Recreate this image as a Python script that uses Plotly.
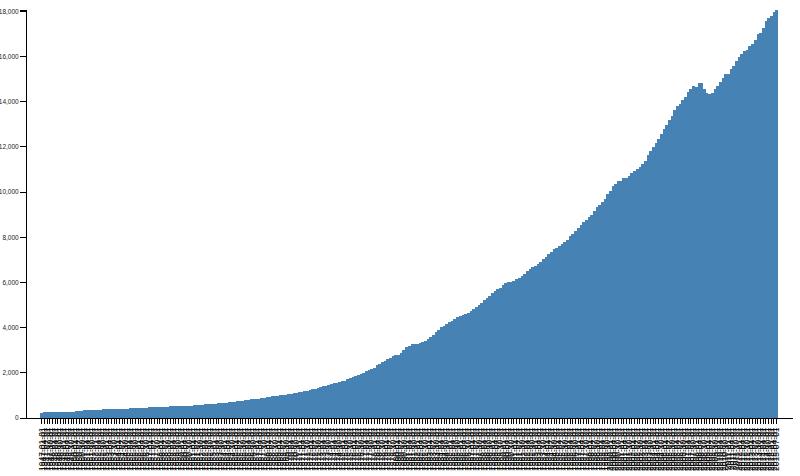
import plotly.graph_objects as go

years = list(range(1947, 2016))
quarters = ["01", "04", "07", "10"]
dates = [f"{y}-{q}-01" for y in years for q in quarters][:275]

gdp = [
    243.1, 246.3, 250.1, 260.3, 266.2, 272.9, 279.5, 280.7, 275.4, 271.7, 273.3, 271.0,
    281.2, 290.7, 308.5, 320.3, 336.4, 344.5, 351.8, 356.6, 360.2, 361.4, 368.1, 381.2,
    388.5, 392.3, 391.7, 386.5, 385.9, 386.7, 391.6, 400.3, 413.8, 422.2, 430.9, 437.8,
    440.5, 446.8, 452.0, 461.3, 470.6, 472.8, 480.3, 475.7, 468.4, 472.8, 486.7, 500.4,
    511.1, 524.2, 525.2, 529.3, 543.3, 542.7, 546.0, 541.1, 545.9, 557.4, 568.2, 581.6,
    595.2, 602.6, 609.6, 613.1, 622.7, 631.8, 645.0, 654.8, 671.1, 680.8, 692.8, 698.4,
    719.2, 732.4, 750.2, 773.1, 797.3, 807.2, 820.8, 834.9, 846.0, 851.1, 866.6, 883.2,
    911.1, 936.3, 952.3, 970.1, 995.4, 1011.4, 1032.0, 1040.7, 1053.5, 1070.1, 1088.5, 1091.5,
    1137.8, 1159.4, 1180.3, 1193.6, 1233.8, 1270.1, 1293.8, 1332.0, 1380.7, 1417.6, 1436.8, 1479.1,
    1494.7, 1534.2, 1563.4, 1603.0, 1619.6, 1656.4, 1713.8, 1765.9, 1824.5, 1856.9, 1890.5, 1938.4,
    1992.5, 2060.2, 2122.4, 2168.7, 2208.7, 2336.6, 2398.9, 2482.2, 2531.6, 2595.9, 2670.4, 2730.7,
    2796.5, 2799.9, 2860.0, 2993.5, 3131.8, 3167.3, 3261.2, 3283.5, 3273.8, 3331.3, 3367.1, 3407.8,
    3480.3, 3583.8, 3692.3, 3796.1, 3912.8, 4015.0, 4087.4, 4147.6, 4237.0, 4302.3, 4394.6, 4453.1,
    4516.3, 4555.2, 4619.6, 4669.4, 4736.2, 4821.5, 4900.5, 5022.7, 5090.6, 5207.7, 5299.5, 5412.7,
    5527.4, 5628.4, 5711.6, 5763.4, 5890.8, 5974.7, 6029.5, 6023.3, 6054.9, 6143.6, 6218.4, 6279.3,
    6380.8, 6492.3, 6586.5, 6697.6, 6748.2, 6829.6, 6904.2, 7032.8, 7136.3, 7269.8, 7352.3, 7476.7,
    7545.3, 7604.9, 7706.5, 7799.5, 7893.1, 8061.5, 8159.0, 8287.1, 8402.1, 8551.9, 8691.8, 8788.3,
    8889.7, 8994.7, 9146.5, 9325.7, 9447.1, 9557.0, 9712.3, 9926.1, 10031.0, 10278.3, 10357.4, 10472.3,
    10508.1, 10638.4, 10639.5, 10701.3, 10834.4, 10934.8, 11037.1, 11103.8, 11230.1, 11370.7, 11625.1, 11816.8,
    11988.4, 12181.4, 12367.7, 12562.2, 12813.7, 12974.1, 13205.4, 13381.6, 13648.9, 13799.8, 13908.5, 14066.4,
    14233.2, 14422.3, 14569.7, 14685.3, 14668.4, 14813.0, 14843.0, 14549.9, 14383.9, 14340.4, 14384.1, 14566.5,
    14681.1, 14888.6, 15057.7, 15230.2, 15238.4, 15460.9, 15587.1, 15785.3, 15973.9, 16121.9, 16227.9, 16297.3,
    16475.4, 16541.4, 16749.3, 16999.9, 17025.2, 17285.6, 17569.4, 17692.2, 17783.6, 17998.3, 18064.7,
]

y_ticks = list(range(0, 18001, 2000))
y_top = max(gdp)

fig = go.Figure(
    go.Bar(
        x=dates,
        y=gdp,
        marker=dict(color="#4682B4", line=dict(width=0)),
    )
)

fig.update_layout(
    width=800,
    height=476,
    margin=dict(l=27, r=7, t=10, b=58),
    paper_bgcolor="white",
    plot_bgcolor="white",
    bargap=0,
    showlegend=False,
    font=dict(family="Liberation Sans, Arial, sans-serif", color="black"),
)

fig.update_xaxes(
    type="category",
    range=[-5.5, 280.1],
    tickmode="array",
    tickvals=dates,
    ticktext=dates,
    tickangle=-90,
    tickfont=dict(size=8.5, color="black"),
    ticks="outside",
    ticklen=5,
    tickwidth=1,
    tickcolor="black",
    showline=True,
    linecolor="black",
    linewidth=1,
    showgrid=False,
    zeroline=False,
    automargin=False,
)

fig.update_yaxes(
    range=[0, y_top],
    tickmode="array",
    tickvals=y_ticks + [y_top],
    ticktext=[f"{v:,}" for v in y_ticks] + [""],
    tickfont=dict(size=6.5, color="#222222"),
    ticks="outside",
    ticklen=6,
    tickwidth=1,
    tickcolor="black",
    showline=True,
    linecolor="black",
    linewidth=1,
    showgrid=False,
    zeroline=False,
    automargin=False,
)

fig.write_html(
    "out.html",
    config={"displayModeBar": False},
    post_script="document.body.style.margin='0';document.body.style.overflow='hidden';",
)
